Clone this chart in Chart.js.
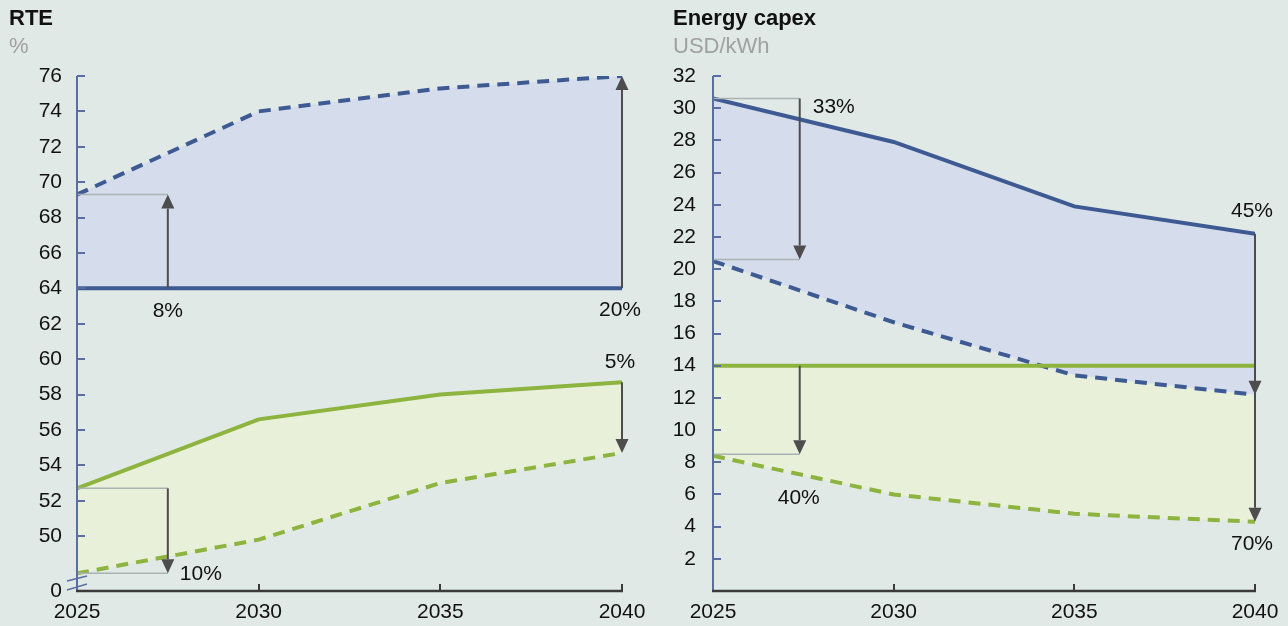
<!DOCTYPE html>
<html><head><meta charset="utf-8">
<script src="https://cdn.jsdelivr.net/npm/chart.js@4"></script>
<style>
html,body{margin:0;padding:0;background:#e1e9e7;width:1288px;height:626px;overflow:hidden;font-family:"Liberation Sans",Arial,sans-serif}
.panel{position:absolute;top:0;height:626px}
.t{position:absolute;font-size:22px;line-height:25px;font-weight:bold;color:#111}
.u{position:absolute;font-size:22px;line-height:25px;color:#a0a0a0}
canvas{display:block}
</style></head><body>
<div class="panel" style="left:0;width:660px"><canvas id="c1" width="660" height="626"></canvas></div>
<div class="panel" style="left:644px;width:644px"><canvas id="c2" width="644" height="626"></canvas></div>
<div class="t" style="left:9px;top:5px">RTE</div>
<div class="u" style="left:9px;top:33px">%</div>
<div class="t" style="left:673px;top:5px">Energy capex</div>
<div class="u" style="left:673px;top:33px">USD/kWh</div>
<script>
// ---------- DATA ----------
const years = [2025, 2030, 2035, 2040];

// RTE (%)
const rteBlueSolid  = [64, 64, 64, 64];
const rteBlueDashed = [69.3, 74.0, 75.3, 76.0];
const rteGreenSolid = [52.7, 56.6, 58.0, 58.7];
const rteGreenDashed= [47.9, 49.8, 53.0, 54.7];
const rteTickValues = [50, 52, 54, 56, 58, 60, 62, 64, 66, 68, 70, 72, 74, 76];
const rteBreakLabel = '0';

// Energy capex (USD/kWh)
const capexBlueSolid  = [30.6, 27.9, 23.9, 22.2];
const capexBlueDashed = [20.5, 16.7, 13.4, 12.2];
const capexGreenSolid = [14, 14, 14, 14];
const capexGreenDashed= [8.4, 6.0, 4.8, 4.3];
const capexTickValues = [2, 4, 6, 8, 10, 12, 14, 16, 18, 20, 22, 24, 26, 28, 30, 32];

// Change annotations (arrows from -> to, in data units)
const rteArrows = [
  {x: 2027.5, from: 64,   to: 69.3, label: '8%',  dx: 0,  dy: 23, at: 'from'},
  {x: 2040,   from: 64,   to: 76,   label: '20%', dx: -2, dy: 22, at: 'from'},
  {x: 2027.5, from: 52.7, to: 47.9, label: '10%', dx: 33, dy: 1,  at: 'to'},
  {x: 2040,   from: 58.7, to: 54.7, label: '5%',  dx: -2, dy: -20, at: 'from'}
];
const rteRefs = [
  {y: 69.3, x0: 2025, x1: 2027.5},
  {y: 52.7, x0: 2025, x1: 2027.5},
  {y: 47.9, x0: 2025, x1: 2027.5}
];
const capexArrows = [
  {x: 2027.4, from: 30.6, to: 20.6, label: '33%', dx: 34, dy: 9,  at: 'from'},
  {x: 2040,   from: 22.2, to: 12.2, label: '45%', dx: -3, dy: -23, at: 'from'},
  {x: 2027.4, from: 14,   to: 8.5,  label: '40%', dx: -1, dy: 44, at: 'to'},
  {x: 2040,   from: 14,   to: 4.3,  label: '70%', dx: -3, dy: 22, at: 'to'}
];
const capexRefs = [
  {y: 30.6, x0: 2025, x1: 2027.4},
  {y: 20.6, x0: 2025, x1: 2027.4},
  {y: 8.5,  x0: 2025, x1: 2027.4}
];

// ---------- STYLE ----------
const BLUE = '#3e5a92', GREEN = '#8db43e';
const BLUE_FILL = '#d5dcec', GREEN_FILL = '#e9f0da';
const AXIS_BLUE = '#5a6ea3', AXIS_DARK = '#3a3a3a';
const FONT = '"Liberation Sans", Arial, sans-serif';
const FS = 21;

const pts = arr => years.map((yr, i) => ({x: yr, y: arr[i]}));
function ds(arr, color, dashed, fill, bg) {
  return {data: pts(arr), borderColor: color, borderWidth: 4, borderDash: dashed ? [12, 8] : [],
    borderCapStyle: 'butt', pointRadius: 0, tension: 0, fill: fill, backgroundColor: bg || 'transparent'};
}

const deco = {
  id: 'deco',
  afterDatasetsDraw(chart, args, o) {
    const {ctx, scales: {x, y}} = chart;
    ctx.save();
    ctx.strokeStyle = '#aab2b2'; ctx.lineWidth = 1.5;
    o.refs.forEach(r => {
      const py = y.getPixelForValue(r.y);
      ctx.beginPath(); ctx.moveTo(x.getPixelForValue(r.x0), py); ctx.lineTo(x.getPixelForValue(r.x1), py); ctx.stroke();
    });
    o.arrows.forEach(ar => {
      const px = x.getPixelForValue(ar.x), y0 = y.getPixelForValue(ar.from), y1 = y.getPixelForValue(ar.to);
      const dir = y1 < y0 ? -1 : 1, head = 14, hw = 6.5;
      ctx.strokeStyle = '#4d4d4d'; ctx.fillStyle = '#4d4d4d'; ctx.lineWidth = 2;
      ctx.beginPath(); ctx.moveTo(px, y0); ctx.lineTo(px, y1 - dir * head); ctx.stroke();
      ctx.beginPath(); ctx.moveTo(px, y1); ctx.lineTo(px - hw, y1 - dir * head); ctx.lineTo(px + hw, y1 - dir * head); ctx.closePath(); ctx.fill();
    });
    ctx.restore();
  },
  afterDraw(chart, args, o) {
    const {ctx, chartArea: a, scales: {x, y}} = chart;
    ctx.save();
    ctx.strokeStyle = AXIS_BLUE; ctx.lineWidth = 2;
    ctx.beginPath(); ctx.moveTo(a.left, a.top); ctx.lineTo(a.left, a.bottom); ctx.stroke();
    o.yTicks.forEach(v => {
      const py = Math.round(y.getPixelForValue(v));
      ctx.beginPath(); ctx.moveTo(a.left, py); ctx.lineTo(a.left + 8, py); ctx.stroke();
    });
    if (o.breakMarks) {
      ctx.lineWidth = 1.5;
      ctx.beginPath(); ctx.moveTo(a.left - 10, a.bottom - 10); ctx.lineTo(a.left + 10, a.bottom - 15); ctx.stroke();
      ctx.beginPath(); ctx.moveTo(a.left - 10, a.bottom - 1); ctx.lineTo(a.left + 10, a.bottom - 7); ctx.stroke();
    }
    ctx.strokeStyle = AXIS_DARK; ctx.lineWidth = 2.5;
    ctx.beginPath(); ctx.moveTo(a.left - 1, a.bottom); ctx.lineTo(a.right + 1, a.bottom); ctx.stroke();
    ctx.lineWidth = 2;
    years.slice(1).forEach(v => {
      const px = Math.round(x.getPixelForValue(v));
      ctx.beginPath(); ctx.moveTo(px, a.bottom); ctx.lineTo(px, a.bottom - 7); ctx.stroke();
    });
    ctx.fillStyle = '#111'; ctx.font = FS + 'px ' + FONT; ctx.textAlign = 'center'; ctx.textBaseline = 'middle';
    o.arrows.forEach(ar => {
      const px = x.getPixelForValue(ar.x), py = y.getPixelForValue(ar.at === 'to' ? ar.to : ar.from);
      ctx.fillText(ar.label, px + ar.dx, py + ar.dy);
    });
    ctx.restore();
  }
};

function makeChart(id, datasets, yMin, yMax, yTickVals, breakLabel, yWidth, rightPad, yPad, arrows, refs) {
  const tickVals = breakLabel !== null ? [yMin].concat(yTickVals) : yTickVals;
  return new Chart(document.getElementById(id), {
    type: 'line',
    data: {datasets},
    plugins: [deco],
    options: {
      responsive: false, animation: false, events: [],
      layout: {padding: {left: 0, right: rightPad, top: 76, bottom: 0}},
      plugins: {legend: {display: false}, tooltip: {enabled: false},
        deco: {arrows, refs, yTicks: yTickVals, breakMarks: breakLabel !== null}},
      scales: {
        x: {type: 'linear', min: 2025, max: 2040,
          grid: {display: false, drawTicks: false}, border: {display: false},
          ticks: {stepSize: 5, padding: 9, color: '#111', font: {family: FONT, size: FS}, callback: v => String(v), maxRotation: 0, autoSkip: false},
          afterFit: s => { s.height = 35; }},
        y: {type: 'linear', min: yMin, max: yMax,
          grid: {display: false, drawTicks: false}, border: {display: false},
          ticks: {padding: yPad, color: '#111', font: {family: FONT, size: FS}, autoSkip: false,
            callback: v => (breakLabel !== null && v === yMin) ? breakLabel : String(v)},
          afterBuildTicks: s => { s.ticks = tickVals.map(v => ({value: v})); },
          afterFit: s => { s.width = yWidth; }}
      }
    }
  });
}

// Left: RTE
makeChart('c1', [
  ds(rteBlueSolid, BLUE, false, false),
  ds(rteBlueDashed, BLUE, true, '-1', BLUE_FILL),
  ds(rteGreenSolid, GREEN, false, false),
  ds(rteGreenDashed, GREEN, true, '-1', GREEN_FILL)
], 46.9, 76, rteTickValues, rteBreakLabel, 77, 38, 15, rteArrows, rteRefs);

// Right: Energy capex
makeChart('c2', [
  ds(capexGreenSolid, GREEN, false, false),
  ds(capexBlueSolid, BLUE, false, false),
  ds(capexBlueDashed, BLUE, true, '-1', BLUE_FILL),
  ds(capexGreenDashed, GREEN, true, 0, GREEN_FILL)
], 0, 32, capexTickValues, null, 69, 33, 17, capexArrows, capexRefs);
</script>
</body></html>
